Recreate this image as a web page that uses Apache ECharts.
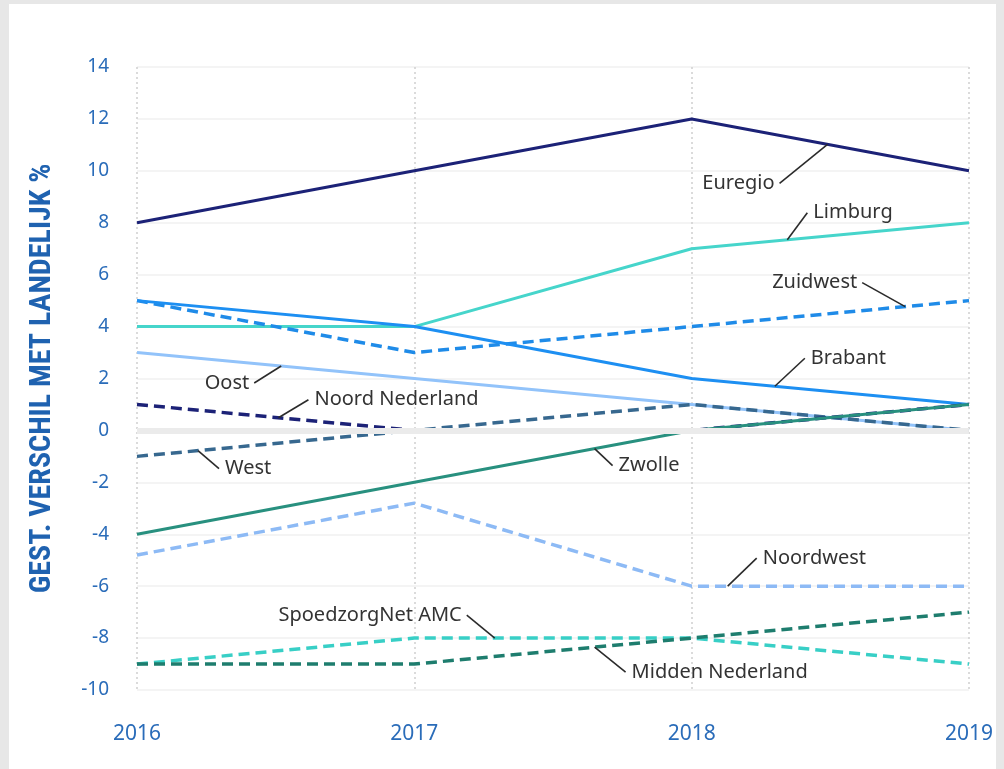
<!DOCTYPE html>
<html><head><meta charset="utf-8">
<script src="https://cdn.jsdelivr.net/npm/echarts@6/dist/echarts.min.js"></script>
<style>
html,body{margin:0;padding:0;background:#e7e7e7;width:1004px;height:769px;overflow:hidden;}
#c{position:absolute;left:9px;top:4px;width:987px;height:765px;background:#fff;}
</style></head>
<body><div id="c"></div>
<script>
const years = [2016, 2017, 2018, 2019];
const yTicks = [-10, -8, -6, -4, -2, 0, 2, 4, 6, 8, 10, 12, 14];
const euregio = [8, 10, 12, 10];
const limburg = [4, 4, 7, 8];
const zuidwest = [5, 3, 4, 5];
const brabant = [5, 4, 2, 1];
const oost = [3, 2, 1, 0];
const noordNederland = [1, 0, 0, 1];
const west = [-1, 0, 1, 0];
const zwolle = [-4, -2, 0, 1];
const noordwest = [-4.8, -2.8, -6, -6];
const spoedzorgNet = [-9, -8, -8, -9];
const middenNederland = [-9, -9, -8, -7];

const seriesDefs = [
  {name:'Euregio', data:euregio, color:'#1c2277', dash:false},
  {name:'Limburg', data:limburg, color:'#46d5cb', dash:false},
  {name:'Zuidwest', data:zuidwest, color:'#1f8be8', dash:true},
  {name:'Brabant', data:brabant, color:'#1d8ff2', dash:false},
  {name:'Oost', data:oost, color:'#92c3fa', dash:false},
  {name:'West', data:west, color:'#37688f', dash:true},
  {name:'Noord Nederland', data:noordNederland, color:'#1c2277', dash:true},
  {name:'Zwolle', data:zwolle, color:'#28907f', dash:false},
  {name:'Noordwest', data:noordwest, color:'#8dbaf5', dash:true},
  {name:'SpoedzorgNet AMC', data:spoedzorgNet, color:'#38cfc6', dash:true},
  {name:'Midden Nederland', data:middenNederland, color:'#1e7d6e', dash:true}
];

// annotation: anchor on series (data x), leader offset (px), text side
const annotations = [
  {series:'Euregio', x:2018.49, dx:-48, dy:39, side:'left'},
  {series:'Limburg', x:2018.345, dx:20, dy:-27, side:'right'},
  {series:'Zuidwest', x:2018.77, dx:-43, dy:-24, side:'left'},
  {series:'Brabant', x:2018.3, dx:30, dy:-28, side:'right'},
  {series:'Oost', x:2016.52, dx:-27, dy:17, side:'left'},
  {series:'Noord Nederland', x:2016.51, dx:30, dy:-18, side:'right'},
  {series:'West', x:2016.22, dx:21, dy:18, side:'right'},
  {series:'Zwolle', x:2017.65, dx:18, dy:17, side:'right'},
  {series:'Noordwest', x:2018.13, dx:29, dy:-28, side:'right'},
  {series:'SpoedzorgNet AMC', x:2017.29, dx:-28, dy:-23, side:'left'},
  {series:'Midden Nederland', x:2017.65, dx:31, dy:25, side:'right'}
];

const chart = echarts.init(document.getElementById('c'), null, {renderer:'canvas'});
const series = seriesDefs.map(s => ({
  name: s.name, type:'line', z: 3,
  data: years.map((y,i)=>[y, s.data[i]]),
  symbol:'none', silent:true,
  lineStyle:{color:s.color, width: s.dash?3.5:3, type: s.dash?[11,6]:'solid', cap:'butt'}
}));
series.unshift({
  type:'line', data:[], z:1, silent:true,
  markLine:{silent:true, symbol:'none', label:{show:false},
    lineStyle:{color:'#ebebeb', width:6, type:'solid'},
    data:[{yAxis:0}]}
});

chart.setOption({
  animation:false,
  grid:{left:128, right:21, top:63, bottom:79, containLabel:false},
  xAxis:{type:'value', min:2016, max:2019, interval:1,
    axisLine:{show:false}, axisTick:{show:false},
    axisLabel:{color:'#2a6cb9', fontSize:21, fontFamily:'Noto Sans, sans-serif', margin:34, formatter:v=>String(v)},
    splitLine:{show:true, lineStyle:{color:'#d0d0d0', width:1.5, type:[2,3]}}
  },
  yAxis:{type:'value', min:yTicks[0], max:yTicks[yTicks.length-1], interval:2,
    name:'GEST. VERSCHIL MET LANDELIJK %', nameLocation:'middle', nameRotate:90, nameGap:80,
    nameTextStyle:{color:'#1f62b0', fontSize:30, fontWeight:'bold', fontFamily:'Liberation Sans Narrow, Roboto Condensed, Roboto, sans-serif'},
    axisLine:{show:false}, axisTick:{show:false},
    axisLabel:{color:'#2a6cb9', fontSize:19, fontFamily:'Noto Sans, sans-serif', margin:28},
    splitLine:{show:true, lineStyle:{color:'#f1f1f1', width:1.5}}
  },
  series: series
});

const g = [];
annotations.forEach(a => {
  const def = seriesDefs.find(s=>s.name===a.series);
  let i = Math.min(Math.floor(a.x - years[0]), years.length-2);
  const t = a.x - years[i];
  const yv = def.data[i] + (def.data[i+1]-def.data[i])*t;
  const p = chart.convertToPixel({gridIndex:0}, [a.x, yv]);
  const ex = p[0]+a.dx, ey = p[1]+a.dy;
  g.push({type:'line', shape:{x1:p[0], y1:p[1], x2:ex, y2:ey}, style:{stroke:'#2b2b2b', lineWidth:1.6}, z:10});
  g.push({type:'text', x: a.side==='left'? ex-5 : ex+6, y: ey,
    style:{text:a.series, fill:'#333333', font:'20px "Noto Sans", sans-serif',
      align: a.side==='left'?'right':'left', verticalAlign:'middle'}, z:10});
});
chart.setOption({graphic:g});
</script>
</body></html>
